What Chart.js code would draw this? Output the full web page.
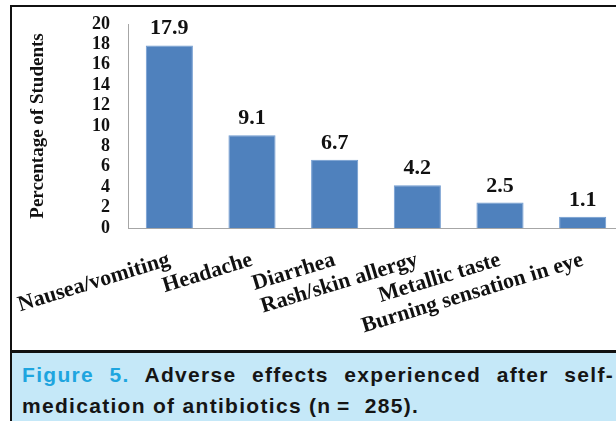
<!DOCTYPE html>
<html>
<head>
<meta charset="utf-8">
<script src="https://cdn.jsdelivr.net/npm/chart.js@4"></script>
<style>
    html, body {
        margin: 0;
        padding: 0;
        width: 616px;
        height: 421px;
        overflow: hidden;
        background: #ffffff;
    }
    .frame {
        position: absolute;
        left: 10px;
        top: 5px;
        width: 640px;
        height: 430px;
        border-left: 2px solid #111;
        border-top: 2px solid #111;
    }
    .chart-box {
        position: absolute;
        left: 12px;
        top: 8px;
        width: 612px;
        height: 342px;
    }
    .caption {
        position: absolute;
        left: 12px;
        top: 350px;
        width: 604px;
        height: 71px;
        border-top: 3px solid #111;
        background: #c5e8f8;
        font-family: "Liberation Sans", Arial, sans-serif;
        font-weight: bold;
        font-size: 21px;
        line-height: 24px;
        letter-spacing: 1.3px;
        color: #151515;
    }
    .caption .line {
        position: absolute;
        left: 10px;
        width: 592px;
        white-space: nowrap;
    }
    .caption .l1 {
        top: 10px;
        text-align: justify;
        text-align-last: justify;
        white-space: normal;
    }
    .caption .l2 { top: 41px; }
    .caption .fig { color: #1ea5df; }
</style>
</head>
<body>
<div class="frame"></div>
<div class="chart-box"><canvas id="barEfectos"></canvas></div>
<div class="caption">
    <div class="line l1"><span class="fig">Figure 5.</span> Adverse effects experienced after self-</div>
    <div class="line l2">medication of antibiotics (n&thinsp;=&nbsp; 285).</div>
</div>

<script>
/* =========================
   DATOS
========================= */
const efectos = ["Nausea/vomiting", "Headache", "Diarrhea", "Rash/skin allergy", "Metallic taste", "Burning sensation in eye"];
const porcentajes = [17.9, 9.1, 6.7, 4.2, 2.5, 1.1];
const yMin = 0;
const yMax = 20;
const yPaso = 2;

const serif = "'Liberation Serif', 'Times New Roman', serif";

/* =========================
   ETIQUETAS SOBRE BARRAS
========================= */
const etiquetasValor = {
    id: "etiquetasValor",
    afterDatasetsDraw(chart) {
        const ctx = chart.ctx;
        const meta = chart.getDatasetMeta(0);
        ctx.save();
        ctx.font = "bold 22px " + serif;
        ctx.fillStyle = "#111";
        ctx.textAlign = "center";
        ctx.textBaseline = "alphabetic";
        meta.data.forEach((bar, i) => {
            ctx.fillText(porcentajes[i].toFixed(1), bar.x, bar.y - 11);
        });
        ctx.restore();
    }
};

/* =========================
   BARRAS
========================= */
new Chart(document.getElementById("barEfectos"), {
    type: "bar",
    data: {
        labels: efectos,
        datasets: [{
            data: porcentajes,
            backgroundColor: "#4f81bd",
            borderColor: "#6f9ad0",
            borderWidth: 1,
            barPercentage: 0.57,
            categoryPercentage: 1
        }]
    },
    options: {
        responsive: true,
        maintainAspectRatio: false,
        animation: false,
        layout: {
            padding: { top: 16, left: 0, right: 0, bottom: 0 }
        },
        scales: {
            x: {
                grid: { display: false },
                border: { display: true, color: "#a6a6a6", width: 1 },
                ticks: {
                    color: "#111",
                    font: { family: serif, size: 22, weight: "bold" },
                    minRotation: 17,
                    maxRotation: 17,
                    autoSkip: false,
                    padding: 11
                },
                afterFit(scale) {
                    scale.height = 122;
                    scale.paddingLeft = 0;
                    scale.paddingRight = 0;
                }
            },
            y: {
                min: yMin,
                max: yMax,
                grid: { display: false, drawTicks: false },
                border: { display: true, color: "#a6a6a6", width: 1 },
                ticks: {
                    stepSize: yPaso,
                    autoSkip: false,
                    color: "#111",
                    font: { family: serif, size: 18, weight: "bold" },
                    padding: 18
                },
                title: {
                    display: true,
                    text: "Percentage of Students",
                    color: "#111",
                    font: { family: serif, size: 19, weight: "bold" },
                    padding: { top: 15, bottom: 0 }
                },
                afterFit(scale) {
                    scale.width = 116;
                    scale.paddingTop = 0;
                    scale.paddingBottom = 0;
                }
            }
        },
        plugins: {
            legend: { display: false },
            tooltip: { enabled: false }
        }
    },
    plugins: [etiquetasValor]
});
</script>
</body>
</html>
